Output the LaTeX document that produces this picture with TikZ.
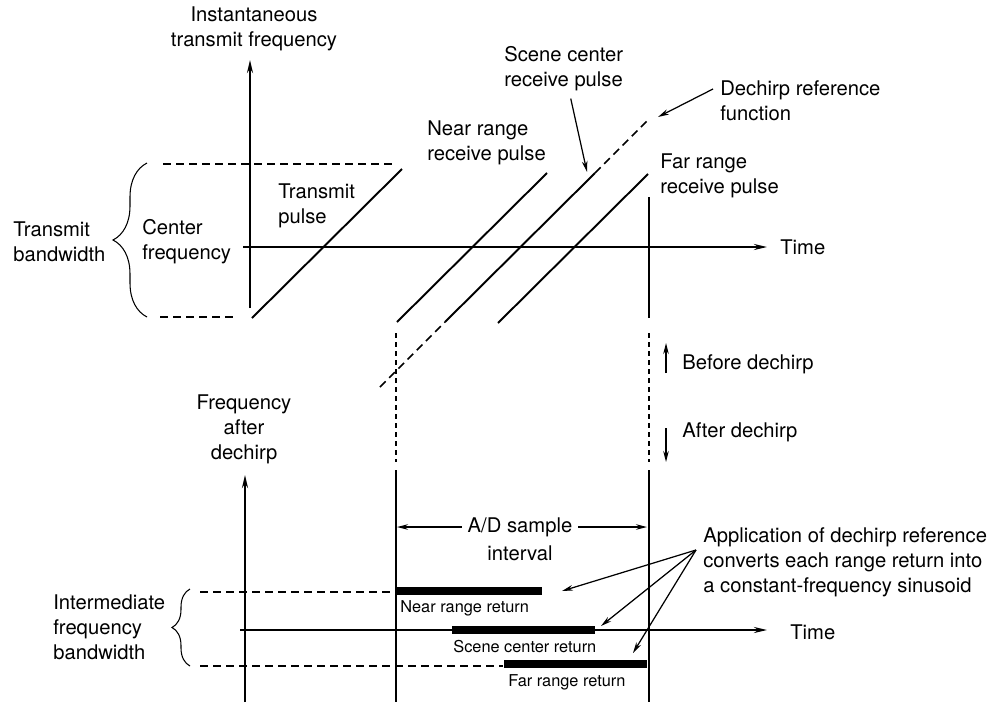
\documentclass[tikz,border=0pt]{standalone}
\usepackage{fontspec}
\setmainfont{TeX Gyre Heros}
\usetikzlibrary{arrows.meta,decorations.pathreplacing}

\tikzset{
  axis/.style={line width=1.1pt,-{Stealth[length=2.6mm,width=1.2mm]}},
  pulse/.style={line width=1.1pt},
  refline/.style={line width=0.9pt,dash pattern=on 1.6mm off 1mm},
  gate/.style={line width=0.85pt},
  gatedash/.style={line width=0.85pt,dash pattern=on 1mm off 0.8mm},
  ret/.style={line width=1.6mm},
  lbl/.style={align=left,anchor=west,inner sep=1.4mm},
  small/.style={font=\fontsize{9.3pt}{11pt}\selectfont,anchor=west,inner sep=0.6mm},
  pointer/.style={line width=0.7pt,-{Stealth[length=2.2mm,width=1.1mm]}},
  bandbrace/.style={decorate,decoration={brace,amplitude=#1},line width=0.6pt}
}

\begin{document}
\begin{tikzpicture}[x=0.2mm,y=-0.2mm,font=\fontsize{11.5pt}{14.2pt}\selectfont]
    \useasboundingbox (0,0) rectangle (997,702);
    \draw[axis] (250,308) -- (250,60);
    \draw[axis] (243,247) -- (767,247);
    \node[align=center] (yup) at (254,29) {Instantaneous\\transmit frequency};
    \node[lbl] (tup) at (773,247) {Time};
    \draw[refline] (163,164) -- (395,164);
    \draw[refline] (160,317) -- (238,317);
    \draw[bandbrace=6.8mm] (147,317) -- (147,163);
    \node[lbl] (tbw) at (6,242) {Transmit\\bandwidth};
    \node[lbl] (cf) at (135,242) {Center\\frequency};
    \draw[pulse] (252,318) -- (402,169);
    \node[lbl] (tx) at (271,206) {Transmit\\pulse};

    \draw[pulse] (397,322) -- (547,173);
    \draw[pulse] (445,322) -- (595,173);
    \draw[pulse] (498,323) -- (648,174);
    \draw[refline] (380,387) -- (445,322);
    \draw[refline] (595,173) -- (650,118);
    \node[lbl] (nrp) at (420,143) {Near range\\receive pulse};
    \node[lbl] (scp) at (497,69) {Scene center\\receive pulse};
    \coordinate (scptip) at (587,172);
    \draw[pointer] ([xshift=1.4mm]scp.south) -- (scptip);
    \node[lbl] (drf) at (713,101) {Dechirp reference\\function};
    \coordinate (drftip) at (658,117);
    \draw[pointer] ([yshift=2.4mm]drf.west) -- (drftip);
    \node[lbl] (frp) at (653,176) {Far range\\receive pulse};

    \draw[gate] (649,197) -- (649,318);
    \draw[gatedash] (649,333) -- (649,462);
    \draw[gate] (649,470) -- (649,702);
    \draw[gatedash] (396,333) -- (396,462);
    \draw[gate] (396,470) -- (396,702);
    \draw[pointer] (666,373) -- (666,343);
    \node[lbl] (bef) at (675,364) {Before dechirp};
    \draw[pointer] (666,428) -- (666,462);
    \node[lbl] (aft) at (675,432) {After dechirp};

    \node[align=center] (ydn) at (244,429) {Frequency\\after\\dechirp};
    \draw[axis] (245,702) -- (245,475);
    \draw[axis] (240,630) -- (767,630);
    \node[lbl] (tdn) at (783,632) {Time};
    \draw[refline] (200,592) -- (393,592);
    \draw[refline] (200,666) -- (503,666);
    \draw[bandbrace=3.6mm] (190,666) -- (190,589);
    \node[lbl] (ifbw) at (46,627) {Intermediate\\frequency\\bandwidth};

    \node (ad) at (520,527) {A/D sample};
    \node (adi) at (520,553) {interval};
    \coordinate (adl) at (397,527);
    \coordinate (adr) at (647,527);
    \draw[pointer] (ad.west) -- (adl);
    \draw[pointer] (ad.east) -- (adr);

    \draw[ret] (397,591) -- (542,591);
    \draw[ret] (452,630) -- (595,630);
    \draw[ret] (504,664) -- (647,664);
    \node[small] (nrl) at (397,608) {Near range return};
    \node[small] (scl) at (450,647) {Scene center return};
    \node[small] (frl) at (505,682) {Far range return};

    \node[lbl] (app) at (696,562) {Application of dechirp reference\\converts each range return into\\a constant-frequency sinusoid};
    \coordinate (appnr) at (562,591);
    \coordinate (appsc) at (601,626);
    \coordinate (appfr) at (633,653);
    \foreach \t in {appnr,appsc,appfr}
        \draw[pointer] ([yshift=2.4mm]app.west) -- (\t);
\end{tikzpicture}
\end{document}
